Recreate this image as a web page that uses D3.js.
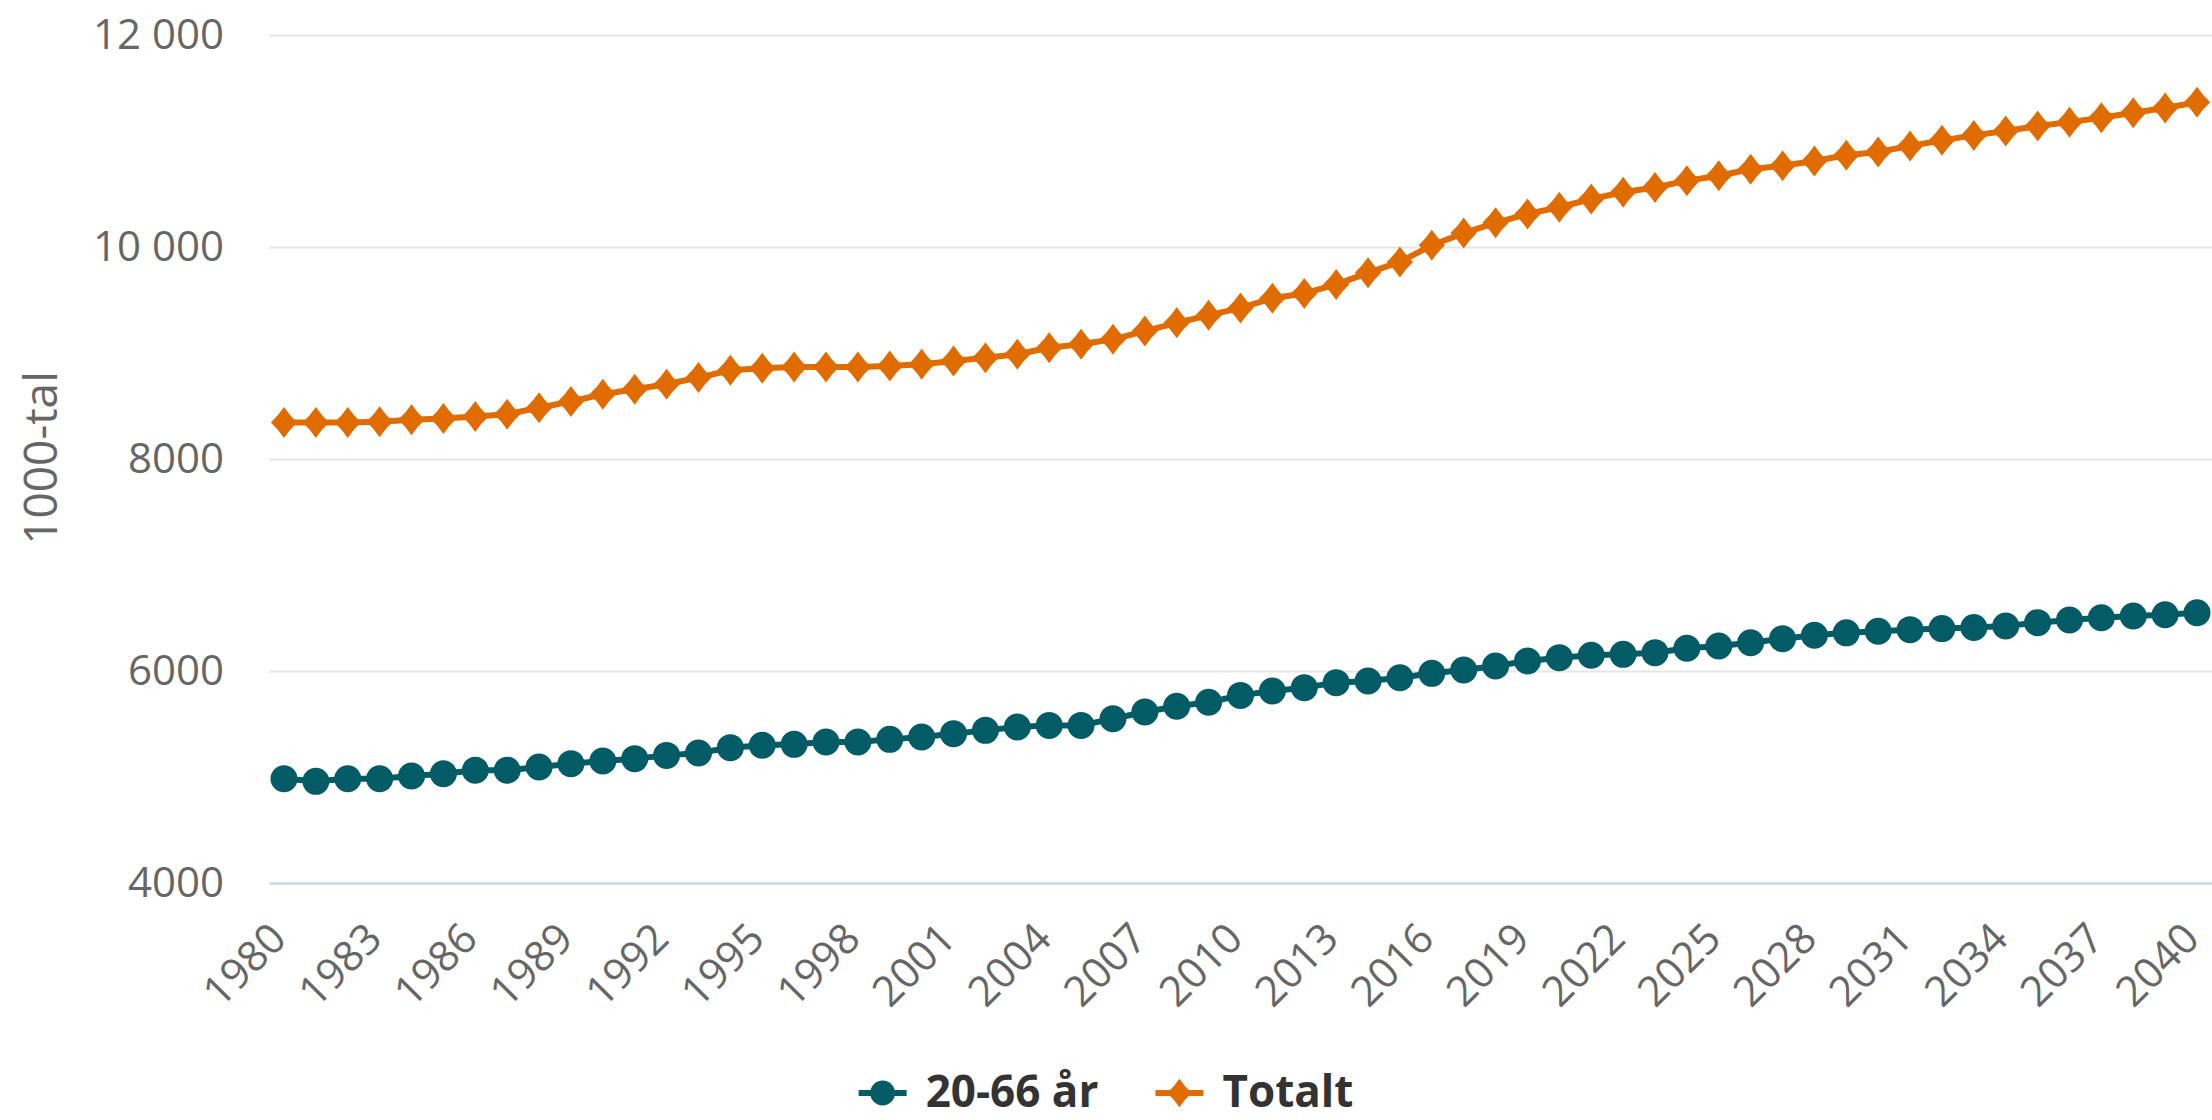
<!DOCTYPE html>
<html>
<head>
<meta charset="utf-8">
<script src="https://cdn.jsdelivr.net/npm/d3@7"></script>
<style>
html,body{margin:0;padding:0;background:#fff;}
svg{display:block;font-family:"Open Sans",sans-serif;}
</style>
</head>
<body>
<svg id="chart" width="2212" height="1120"></svg>
<script>
// ---- data ----
const years = [1980,1981,1982,1983,1984,1985,1986,1987,1988,1989,
  1990,1991,1992,1993,1994,1995,1996,1997,1998,1999,
  2000,2001,2002,2003,2004,2005,2006,2007,2008,2009,
  2010,2011,2012,2013,2014,2015,2016,2017,2018,2019,
  2020,2021,2022,2023,2024,2025,2026,2027,2028,2029,
  2030,2031,2032,2033,2034,2035,2036,2037,2038,2039,2040];

const age20to66 = [4984,4959,4984,4984,5009,5031,5063,5063,5094,5126,
  5151,5173,5204,5226,5277,5299,5308,5330,5330,5355,
  5377,5409,5440,5472,5487,5487,5550,5613,5668,5705,
  5770,5811,5843,5890,5906,5937,5978,6009,6047,6094,
  6126,6148,6157,6173,6214,6236,6267,6305,6337,6360,
  6375,6390,6400,6410,6425,6456,6481,6503,6519,6530,6550];

const totalt = [8345,8345,8345,8351,8370,8382,8401,8423,8483,8542,
  8611,8658,8705,8768,8837,8856,8868,8868,8868,8878,
  8893,8925,8956,8988,9050,9082,9129,9207,9285,9355,
  9425,9516,9562,9647,9756,9859,10016,10131,10228,10312,
  10375,10453,10516,10562,10625,10672,10734,10766,10812,10866,
  10897,10953,11006,11053,11094,11141,11178,11219,11266,11312,11366];

const seriesNames = ["20-66 år", "Totalt"];
const xTickYears = [1980,1983,1986,1989,1992,1995,1998,2001,2004,2007,2010,
  2013,2016,2019,2022,2025,2028,2031,2034,2037,2040];
const yTickValues = [4000,6000,8000,10000,12000];
const yTickLabels = ["4000","6000","8000","10 000","12 000"];
const yAxisTitle = "1000-tal";

// ---- layout ----
const W = 2212, H = 1120;
const plot = {left: 269, right: 2212, top: 35, bottom: 883};
const colors = ["#035b66", "#e06c00"];

const svg = d3.select("#chart");

const x = d3.scalePoint().domain(years).range([plot.left, plot.right]).padding(0.47);
const y = d3.scaleLinear().domain([4000, 12000]).range([plot.bottom, plot.top]);

// grid + y axis
const yAxis = d3.axisLeft(y)
  .tickValues(yTickValues)
  .tickSize(-(plot.right - plot.left))
  .tickPadding(45)
  .tickFormat((d, i) => yTickLabels[i]);
const gy = svg.append("g").attr("transform", `translate(${plot.left},0)`).call(yAxis);
gy.select(".domain").remove();
gy.selectAll(".tick line").attr("stroke", "#e6e6e6").attr("stroke-width", 2);
gy.selectAll(".tick text").attr("fill", "#666666").style("font-size", "42px")
  .style("font-family", '"Open Sans", sans-serif');
gy.selectAll(".tick").filter(d => d === 4000).select("line").remove();

// x axis
const xAxis = d3.axisBottom(x).tickValues(xTickYears).tickSize(0).tickSizeOuter(0);
const gx = svg.append("g").attr("transform", `translate(0,${plot.bottom})`).call(xAxis);
gx.select(".domain").attr("stroke", "#ccd6eb").attr("stroke-width", 2.5);
gx.selectAll(".tick text")
  .attr("fill", "#666666")
  .style("font-size", "42px")
  .style("font-family", '"Open Sans", sans-serif')
  .attr("x", null).attr("y", null).attr("dy", null)
  .attr("text-anchor", "end")
  .attr("transform", "translate(4,58) rotate(-45)");

// y axis title
svg.append("text")
  .attr("transform", `translate(57,458) rotate(-90)`)
  .attr("text-anchor", "middle")
  .attr("fill", "#666666")
  .style("font-size", "46px")
  .text(yAxisTitle);

// symbols
const diamond = {
  draw(ctx, size) {
    const h = Math.sqrt(size) / 2, w = h * 0.85;
    const k = 0.44;
    ctx.moveTo(0, -h);
    ctx.quadraticCurveTo(w * k, -h * k, w, 0);
    ctx.quadraticCurveTo(w * k, h * k, 0, h);
    ctx.quadraticCurveTo(-w * k, h * k, -w, 0);
    ctx.quadraticCurveTo(-w * k, -h * k, 0, -h);
    ctx.closePath();
  }
};
const symbolTypes = [d3.symbolCircle, diamond];
const symbolSizes = [Math.PI * 13.5 * 13.5, 31 * 31];

const seriesValues = [age20to66, totalt];
const series = seriesNames.map((name, i) => ({
  name, color: colors[i], type: symbolTypes[i], size: symbolSizes[i],
  points: years.map((yr, j) => ({year: yr, v: seriesValues[i][j]}))
}));

const line = d3.line().x(d => x(d.year)).y(d => y(d.v));

const sg = svg.selectAll("g.series").data(series).join("g").attr("class", "series");
sg.append("path")
  .attr("d", d => line(d.points))
  .attr("fill", "none")
  .attr("stroke", d => d.color)
  .attr("stroke-width", 6)
  .attr("stroke-linejoin", "round");
sg.each(function(s) {
  d3.select(this).selectAll("path.m").data(s.points).join("path")
    .attr("class", "m")
    .attr("transform", d => `translate(${x(d.year)},${y(d.v)})`)
    .attr("d", d3.symbol().type(s.type).size(s.size)())
    .attr("fill", s.color);
});

// legend
const legend = svg.append("g");
const items = legend.selectAll("g.li").data(series).join("g").attr("class", "li");
items.append("line").attr("x1", 0).attr("x2", 48).attr("y1", 0).attr("y2", 0)
  .attr("stroke", d => d.color).attr("stroke-width", 6);
items.append("path").attr("transform", "translate(24,0)")
  .attr("d", d => d3.symbol().type(d.type).size(d.size * 0.85)())
  .attr("fill", d => d.color);
items.append("text").attr("x", 67).attr("y", 14)
  .attr("fill", "#333333").style("font-size", "44px").style("font-weight", "bold")
  .text(d => d.name);
let widths = [];
items.each(function() { widths.push(this.getBBox().width); });
const gap = 57;
const total = d3.sum(widths) + gap * (widths.length - 1);
let cx = W / 2 - total / 2;
items.attr("transform", (d, i) => {
  const t = `translate(${cx},1093)`;
  cx += widths[i] + gap;
  return t;
});
</script>
</body>
</html>
